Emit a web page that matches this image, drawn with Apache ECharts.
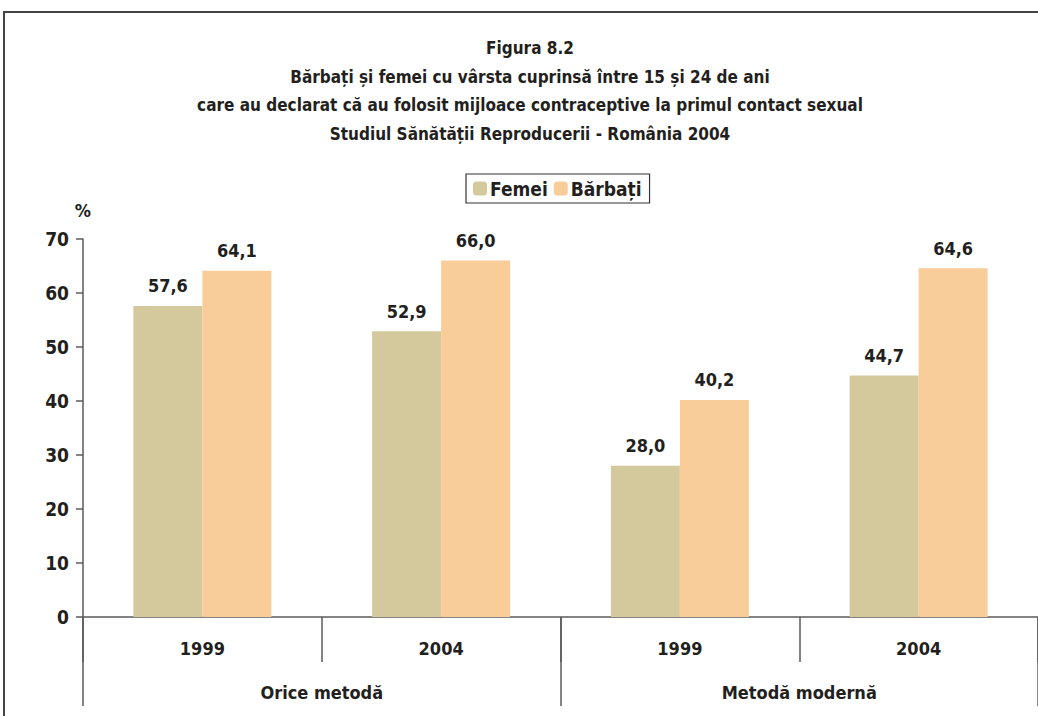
<!DOCTYPE html>
<html>
<head>
<meta charset="utf-8">
<script src="https://cdn.jsdelivr.net/npm/echarts@6/dist/echarts.min.js"></script>
<style>html,body{margin:0;padding:0;background:#fff;}#c{width:1038px;height:716px;}</style>
</head>
<body>
<div id="c"></div>
<script>
const titleLines = [
  'Figura 8.2',
  'Bărbați și femei cu vârsta cuprinsă între 15 și 24 de ani',
  'care au declarat că au folosit mijloace contraceptive la primul contact sexual',
  'Studiul Sănătății Reproducerii - România 2004'
];
const years = ['1999', '2004', '1999', '2004'];
const groups = ['Orice metodă', 'Metodă modernă'];
const femei = [57.6, 52.9, 28.0, 44.7];
const barbati = [64.1, 66.0, 40.2, 64.6];
const seriesNames = ['Femei', 'Bărbați'];

const FONT = "'Liberation Sans Narrow', 'DejaVu Sans Condensed', 'Arial Narrow', sans-serif";
const TXT = '#231f20';
const AX = '#5a5a5a';
const FS = 18;

const chart = echarts.init(document.getElementById('c'), null, {renderer: 'svg'});
const lab = {
  show: true, position: 'top', distance: 11,
  fontFamily: FONT, fontWeight: 'bold', fontSize: FS, color: TXT,
  formatter: p => p.value.toFixed(1).replace('.', ',')
};
chart.setOption({
  animation: false,
  textStyle: {fontFamily: FONT},
  graphic: [
    {type: 'rect', shape: {x: 4, y: 12, width: 1100, height: 800},
     style: {fill: 'none', stroke: '#444', lineWidth: 2}, silent: true, z: -1},
    {type: 'text', x: 530, y: 34,
     style: {text: titleLines.join('\n'), font: 'bold 17px ' + FONT, fill: TXT,
             textAlign: 'center', textVerticalAlign: 'top', lineHeight: 28.5}}
  ],
  legend: {
    left: 466, top: 174,
    padding: [5, 8, 5, 7],
    borderColor: '#333', borderWidth: 1.2,
    itemWidth: 14, itemHeight: 14, itemGap: 6,
    textStyle: {fontFamily: FONT, fontWeight: 'bold', fontSize: 19, color: TXT, padding: [0, 0, 0, -2]},
    data: seriesNames
  },
  grid: {left: 83, right: 0, top: 239, bottom: 99},
  xAxis: [
    {type: 'category', data: years, position: 'bottom',
     axisLine: {lineStyle: {color: AX, width: 1.5}},
     axisTick: {show: true, length: 45, interval: 0, lineStyle: {color: AX, width: 1.5}},
     axisLabel: {margin: 22, interval: 0, fontFamily: FONT, fontWeight: 'bold', fontSize: FS, color: TXT}},
    {type: 'category', data: groups, position: 'bottom',
     axisLine: {show: false},
     axisTick: {show: true, length: 89, interval: 0, lineStyle: {color: AX, width: 1.5}},
     axisLabel: {margin: 66, interval: 0, fontFamily: FONT, fontWeight: 'bold', fontSize: FS, color: TXT}}
  ],
  yAxis: {
    type: 'value', min: 0, max: 70, interval: 10,
    name: '%', nameLocation: 'end', nameGap: 20,
    nameTextStyle: {fontFamily: FONT, fontWeight: 'bold', fontSize: FS, color: TXT, align: 'right', padding: [0, -8, 0, 0]},
    splitLine: {show: false},
    axisLine: {show: true, lineStyle: {color: AX, width: 1.5}},
    axisTick: {show: true, length: 7, lineStyle: {color: AX, width: 1.5}},
    axisLabel: {margin: 14, fontFamily: FONT, fontWeight: 'bold', fontSize: FS + 1, color: TXT}
  },
  series: [
    {name: seriesNames[0], type: 'bar', data: femei, barWidth: 69, barGap: '0%',
     itemStyle: {color: '#d4c99c'}, label: lab},
    {name: seriesNames[1], type: 'bar', data: barbati, barWidth: 69, barGap: '0%',
     itemStyle: {color: '#f9cd99'}, label: lab}
  ]
});
</script>
</body>
</html>
